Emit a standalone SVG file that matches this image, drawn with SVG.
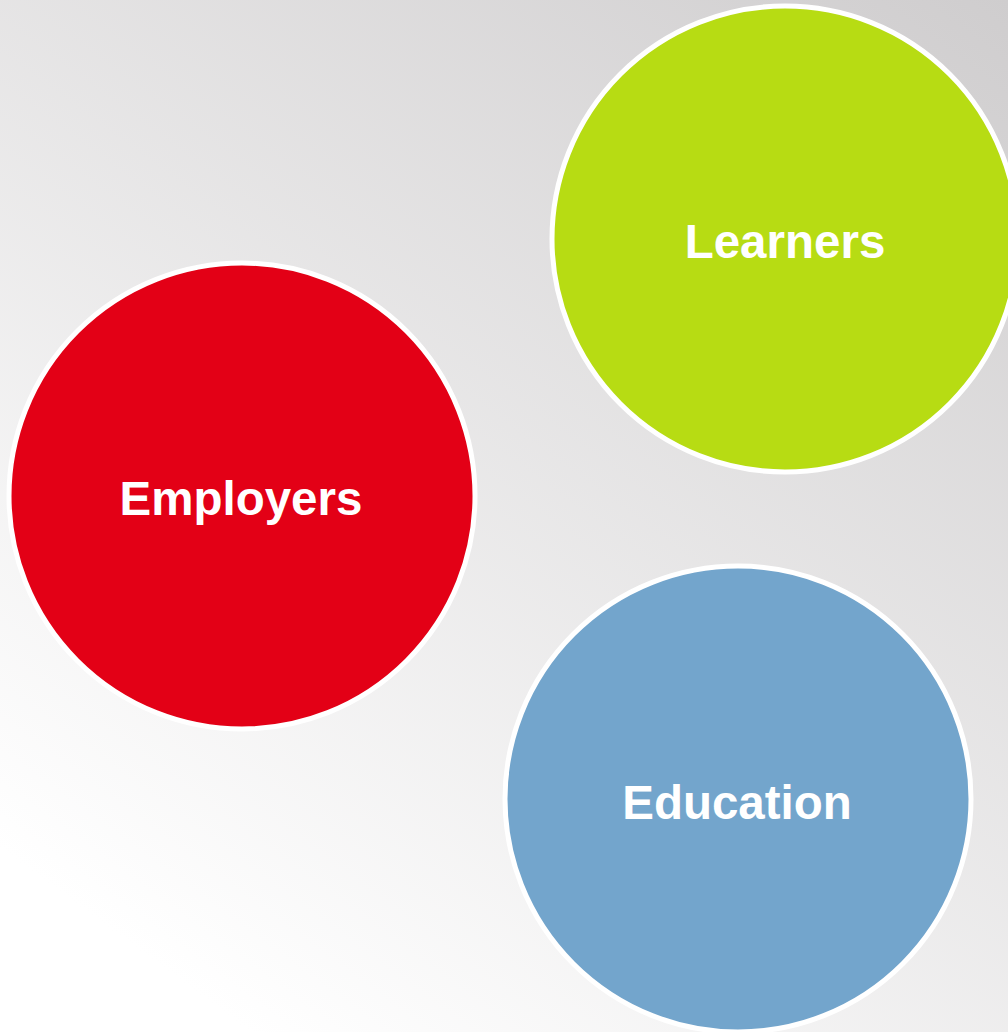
<svg xmlns="http://www.w3.org/2000/svg" width="1008" height="1032" viewBox="0 0 1008 1032">
  <defs>
    <linearGradient id="bg" x1="1008" y1="0" x2="250" y2="1032" gradientUnits="userSpaceOnUse">
      <stop offset="0" stop-color="#cfcdce"/>
      <stop offset="1" stop-color="#ffffff"/>
    </linearGradient>
    <style>
      .c { stroke: #ffffff; stroke-width: 5; }
      .t { font-family: "Liberation Sans", Arial, sans-serif; font-weight: bold; font-size: 47.5px; fill: #ffffff; text-anchor: middle; }
    </style>
  </defs>
  <rect width="1008" height="1032" fill="url(#bg)"/>
  <g id="learners">
    <circle class="c" cx="785" cy="239" r="233" fill="#b7dc13"/>
    <text class="t" x="785" y="258">Learners</text>
  </g>
  <g id="employers">
    <circle class="c" cx="242" cy="496" r="233" fill="#e30016"/>
    <text class="t" x="241" y="515">Employers</text>
  </g>
  <g id="education">
    <circle class="c" cx="738" cy="799" r="233" fill="#73a5cc"/>
    <text class="t" x="737" y="819">Education</text>
  </g>
  <g id="connectors"/>
</svg>
